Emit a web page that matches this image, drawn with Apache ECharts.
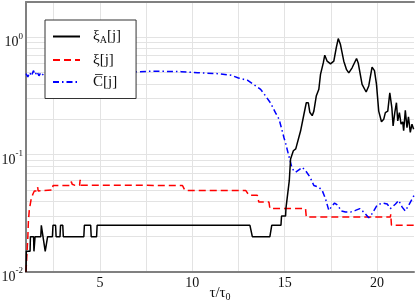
<!DOCTYPE html>
<html>
<head>
<meta charset="utf-8">
<script src="https://cdn.jsdelivr.net/npm/echarts@6/dist/echarts.min.js"></script>
<style>
html,body{margin:0;padding:0;background:#fff;}
#c{width:415px;height:307px;}
</style>
</head>
<body>
<div id="c"></div>
<script>
// ---- data (x = tau/tau0, y = value) ----
const seriesNames = ['xiA', 'xi', 'Cbar'];
const xiA = [[1.0,0.01],[1.02,0.015],[1.22,0.015],[1.24,0.02],[1.41,0.02],[1.43,0.015],[1.47,0.015],[1.49,0.02],[1.8,0.02],[1.83,0.025],[1.89,0.025],[1.92,0.02],[2.01,0.02],[2.04,0.015],[2.14,0.015],[2.17,0.02],[2.43,0.02],[2.46,0.025],[2.6,0.025],[2.63,0.02],[2.84,0.02],[2.87,0.025],[2.99,0.025],[3.02,0.02],[4.13,0.02],[4.16,0.025],[4.5,0.025],[4.53,0.02],[4.82,0.02],[4.85,0.025],[13.12,0.025],[13.25,0.02],[14.2,0.02],[14.3,0.025],[14.8,0.025],[14.83,0.03],[15.05,0.03],[15.07,0.035],[15.15,0.035],[15.25,0.06],[15.32,0.092],[15.47,0.108],[15.6,0.112],[15.68,0.115],[15.86,0.159],[16.04,0.22],[16.17,0.277],[16.28,0.277],[16.36,0.23],[16.49,0.215],[16.58,0.235],[16.71,0.316],[16.85,0.361],[16.94,0.483],[17.09,0.605],[17.17,0.704],[17.3,0.626],[17.48,0.594],[17.66,0.626],[17.79,0.811],[17.9,0.975],[18.02,0.867],[18.2,0.626],[18.35,0.53],[18.47,0.498],[18.65,0.55],[18.89,0.66],[18.98,0.605],[19.19,0.397],[19.41,0.342],[19.55,0.385],[19.73,0.557],[19.86,0.52],[19.97,0.397],[20.09,0.235],[20.24,0.191],[20.36,0.2],[20.45,0.228],[20.58,0.235],[20.69,0.337],[20.8,0.252],[20.87,0.176],[20.96,0.228],[21.05,0.277],[21.12,0.194],[21.21,0.228],[21.3,0.182],[21.39,0.19],[21.44,0.16],[21.53,0.239],[21.62,0.17],[21.7,0.21],[21.8,0.155],[21.89,0.182],[21.98,0.165]];
const xi = [[1.0,0.01],[1.1,0.02],[1.13,0.027],[1.18,0.034],[1.27,0.041],[1.37,0.046],[1.45,0.049],[1.6,0.049],[1.63,0.053],[1.66,0.049],[2.44,0.05],[2.46,0.0546],[3.4,0.0546],[3.45,0.059],[3.5,0.056],[3.62,0.055],[3.9,0.055],[3.93,0.061],[3.97,0.055],[9.47,0.0546],[9.6,0.0496],[12.89,0.0496],[13.07,0.045],[13.52,0.045],[13.6,0.0395],[14.15,0.0395],[14.2,0.0347],[16.13,0.0347],[16.17,0.0294],[20.72,0.0294],[20.74,0.031],[20.78,0.025],[22,0.025]];
const cbar = [[1.0,0.49],[1.1,0.46],[1.2,0.5],[1.3,0.47],[1.4,0.52],[1.5,0.48],[1.6,0.51],[1.7,0.47],[1.8,0.5],[1.9,0.48],[2.0,0.5],[2.2,0.49],[3,0.5],[5,0.5],[6.7,0.505],[7.8,0.515],[9.4,0.51],[10.3,0.5],[11.4,0.49],[12.1,0.475],[12.5,0.45],[13.0,0.43],[13.35,0.393],[13.7,0.36],[13.97,0.316],[14.24,0.275],[14.5,0.228],[14.7,0.2],[14.96,0.14],[15.05,0.125],[15.23,0.097],[15.41,0.0757],[15.59,0.0708],[15.77,0.0743],[15.95,0.078],[16.13,0.0731],[16.37,0.0644],[16.58,0.0546],[16.85,0.0527],[17.03,0.0496],[17.21,0.0421],[17.39,0.0335],[17.52,0.0357],[17.7,0.0387],[17.88,0.037],[18.06,0.0331],[18.29,0.0324],[18.56,0.0324],[18.83,0.0335],[19.07,0.0347],[19.28,0.0324],[19.55,0.029],[19.73,0.0314],[20.0,0.037],[20.28,0.0387],[20.55,0.038],[20.72,0.0347],[21.0,0.038],[21.17,0.0407],[21.36,0.0357],[21.53,0.0331],[21.71,0.037],[21.95,0.0434],[22,0.045]];
// ---- axes ----
const xRange = [1, 22];
const xGrid = [2.5, 5, 7.5, 10, 12.5, 15, 17.5, 20];
const xLabels = [5, 10, 15, 20];
const yRange = [0.01, 2];
const yGrid = [0.01,0.02,0.03,0.04,0.05,0.06,0.07,0.08,0.09,0.1,0.2,0.3,0.4,0.5,0.6,0.7,0.8,0.9,1];
const yLabels = [0.01, 0.1, 1];

const serif = '"Liberation Serif","DejaVu Serif","Times New Roman",serif';
const chart = echarts.init(document.getElementById('c'), null, {renderer: 'canvas'});
const legendText = {
  xiA: '{t|ξ}{sub|A}{t|[j]}',
  xi: '{t|ξ[j]}',
  Cbar: '{t|C\u0305[j]}'
};
chart.setOption({
  animation: false,
  backgroundColor: '#fff',
  grid: {left: 26, right: 1, top: 2, bottom: 35, outerBoundsMode: 'none', containLabel: false},
  legend: {
    orient: 'vertical', left: 45, top: 20,
    padding: [9, 15, 9, 7],
    backgroundColor: '#fff', borderColor: '#333', borderWidth: 1, borderRadius: 0,
    itemWidth: 27, itemHeight: 14, itemGap: 7,
    itemStyle: {color: 'transparent', borderWidth: 0, opacity: 0},
    data: seriesNames,
    formatter: n => legendText[n],
    textStyle: {
      fontFamily: serif, color: '#111', padding: [0, 0, 0, 8],
      rich: {
        t: {fontFamily: serif, fontSize: 15, color: '#111', lineHeight: 18, verticalAlign: 'middle'},
        sub: {fontFamily: serif, fontSize: 10, color: '#111', lineHeight: 6, verticalAlign: 'bottom'}
      }
    }
  },
  xAxis: [{
    type: 'value', min: xRange[0], max: xRange[1],
    axisLine: {show: true, onZero: false, lineStyle: {color: '#808080', width: 2}},
    axisTick: {show: false, customValues: xGrid},
    axisLabel: {customValues: xLabels, fontFamily: serif, fontSize: 14, color: '#111', margin: 4},
    splitLine: {show: true, lineStyle: {color: '#e3e3e3', width: 1}},
    name: '{t|τ/τ}{sub|0}', nameLocation: 'middle', nameGap: 12, nameMoveOverlap: false,
    nameTextStyle: {rich: {
      t: {fontFamily: serif, fontSize: 15, color: '#111', lineHeight: 18},
      sub: {fontFamily: serif, fontSize: 10, color: '#111', lineHeight: 10, verticalAlign: 'bottom'}
    }}
  }, {
    type: 'value', min: xRange[0], max: xRange[1], position: 'top',
    axisLine: {show: true, lineStyle: {color: '#808080', width: 2}},
    axisTick: {show: false}, axisLabel: {show: false}, splitLine: {show: false}
  }],
  yAxis: {
    type: 'log', logBase: 10, min: yRange[0], max: yRange[1],
    axisLine: {show: true, lineStyle: {color: '#808080', width: 2}},
    axisTick: {show: false, customValues: yGrid},
    axisLabel: {
      customValues: yLabels, margin: 3, color: '#111', padding: [7, 0, 0, 0],
      formatter: v => {
        const e = Math.round(Math.log10(v));
        if (Math.abs(Math.log10(v) - e) > 1e-6) return '';
        return '{b|10}{s|' + e + '}';
      },
      rich: {
        b: {fontFamily: serif, fontSize: 14, color: '#111', lineHeight: 18, verticalAlign: 'bottom'},
        s: {fontFamily: serif, fontSize: 9, color: '#111', lineHeight: 10, verticalAlign: 'top'}
      }
    },
    splitLine: {show: true, lineStyle: {color: '#e3e3e3', width: 1}}
  },
  series: [
    {name: 'xiA', type: 'line', data: xiA, symbol: 'none', z: 4,
     lineStyle: {color: '#000', width: 1.5}, itemStyle: {color: '#000'}},
    {name: 'xi', type: 'line', data: xi, symbol: 'none', z: 3,
     lineStyle: {color: '#ff0000', width: 1.5, type: [7, 4]}, itemStyle: {color: '#ff0000'}},
    {name: 'Cbar', type: 'line', data: cbar, symbol: 'none', z: 3,
     lineStyle: {color: '#0000ff', width: 1.5, type: [6, 3, 1.5, 3]}, itemStyle: {color: '#0000ff'}}
  ]
});
</script>
</body>
</html>
